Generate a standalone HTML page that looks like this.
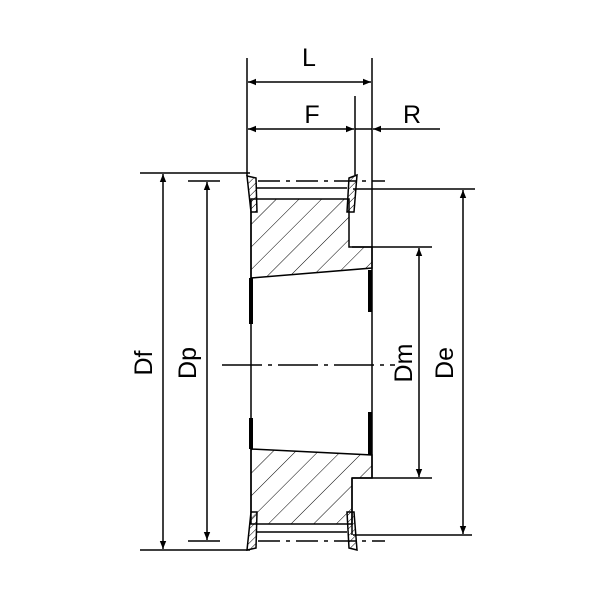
<!DOCTYPE html>
<html><head><style>body{margin:0;background:#fff}svg{display:block}</style></head><body>
<svg width="600" height="600" viewBox="0 0 600 600" xmlns="http://www.w3.org/2000/svg" font-family="Liberation Sans, sans-serif">
<defs>
<pattern id="h" width="16" height="16" patternUnits="userSpaceOnUse" patternTransform="rotate(45)">
<line x1="0" y1="0" x2="0" y2="16" stroke="#000" stroke-width="1"/>
</pattern>
<pattern id="f" width="5" height="5" patternUnits="userSpaceOnUse" patternTransform="rotate(45)">
<line x1="0" y1="0" x2="0" y2="5" stroke="#000" stroke-width="1"/>
</pattern>
<marker id="a" viewBox="0 0 10 10" refX="10" refY="5" markerWidth="10" markerHeight="8" orient="auto-start-reverse" markerUnits="userSpaceOnUse"><path d="M0,1 L10,5 L0,9z" fill="#000"/></marker>
</defs>
<g stroke="#000" stroke-width="1.5" fill="none">
<polygon points="251,199 349,199 349,247 372,247 372,268 251,278" fill="url(#h)"/>
<polygon points="251,449 372,455 372,478 352,478 352,524 251,524" fill="url(#h)"/>
<polygon points="247,176 256,178 257,212 251,212" fill="url(#f)"/>
<polygon points="349,178 357,175 354,212 347,212" fill="url(#f)"/>
<polygon points="251,512 257,512 256,548 247,550" fill="url(#f)"/>
<polygon points="347,512 354,512 357,550 349,548" fill="url(#f)"/>
<line x1="257" y1="188" x2="347" y2="188"/>
<line x1="257" y1="532" x2="347" y2="532"/>
<line x1="251" y1="212" x2="251" y2="512"/>
<line x1="372" y1="58" x2="372" y2="478"/>
<line x1="247" y1="58" x2="247" y2="176"/>
<line x1="355" y1="96" x2="355" y2="175"/>
<line x1="352" y1="478" x2="352" y2="535"/>
<line x1="251" y1="278" x2="251" y2="324" stroke-width="4"/>
<line x1="251" y1="418" x2="251" y2="449" stroke-width="4"/>
<line x1="370" y1="270" x2="370" y2="312" stroke-width="4"/>
<line x1="370" y1="412" x2="370" y2="455" stroke-width="4"/>
<line x1="140" y1="173" x2="250" y2="173"/>
<line x1="140" y1="550" x2="250" y2="550"/>
<line x1="188" y1="181" x2="220" y2="181"/>
<line x1="188" y1="541" x2="220" y2="541"/>
<line x1="258" y1="181" x2="385" y2="181" stroke-dasharray="22,6,4,6"/>
<line x1="258" y1="541" x2="385" y2="541" stroke-dasharray="22,6,4,6"/>
<line x1="222" y1="365" x2="395" y2="365" stroke-dasharray="40,6,4,6"/>
<line x1="353" y1="189" x2="475" y2="189"/>
<line x1="353" y1="535" x2="472" y2="535"/>
<line x1="352" y1="247" x2="432" y2="247"/>
<line x1="352" y1="478" x2="432" y2="478"/>
<line x1="248" y1="82" x2="371" y2="82" marker-start="url(#a)" marker-end="url(#a)"/>
<line x1="248" y1="129" x2="354" y2="129" marker-start="url(#a)" marker-end="url(#a)"/>
<line x1="355" y1="129" x2="372" y2="129"/>
<line x1="440" y1="129" x2="373" y2="129" marker-end="url(#a)"/>
<line x1="163" y1="174" x2="163" y2="549" marker-start="url(#a)" marker-end="url(#a)"/>
<line x1="207" y1="182" x2="207" y2="540" marker-start="url(#a)" marker-end="url(#a)"/>
<line x1="419" y1="248" x2="419" y2="477" marker-start="url(#a)" marker-end="url(#a)"/>
<line x1="463" y1="190" x2="463" y2="534" marker-start="url(#a)" marker-end="url(#a)"/>
</g>
<g font-size="25" fill="#000" text-anchor="middle">
<text x="309" y="66">L</text>
<text x="312" y="123">F</text>
<text x="412" y="123">R</text>
<text transform="translate(152,363) rotate(-90)">Df</text>
<text transform="translate(196,363) rotate(-90)">Dp</text>
<text transform="translate(412,363) rotate(-90)">Dm</text>
<text transform="translate(453,363) rotate(-90)">De</text>
</g>
</svg>
</body></html>
